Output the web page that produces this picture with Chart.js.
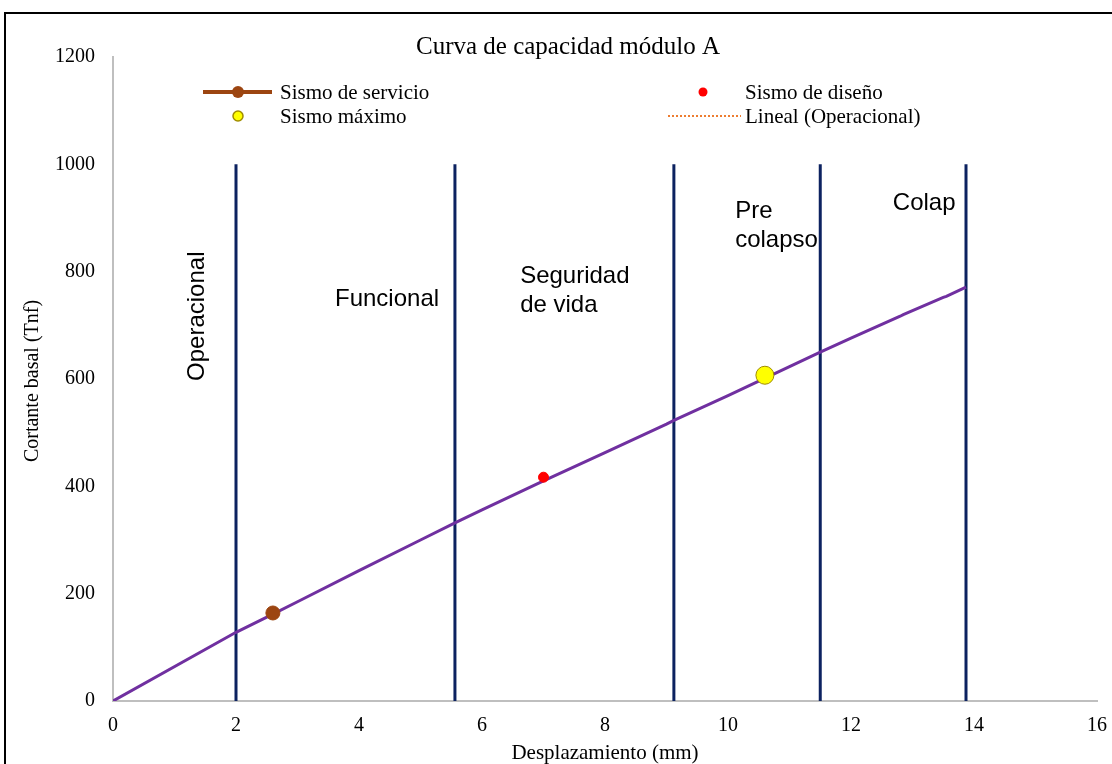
<!DOCTYPE html>
<html><head><meta charset="utf-8">
<script src="https://cdn.jsdelivr.net/npm/chart.js@4.4.0/dist/chart.umd.min.js"></script>
<style>html,body{margin:0;padding:0;background:#fff}canvas{display:block}</style>
</head><body>
<canvas id="c" width="1112" height="764"></canvas>
<script>
const titleText = 'Curva de capacidad módulo A';
const xTitle = 'Desplazamiento (mm)';
const yTitle = 'Cortante basal (Tnf)';
const curveX = [0, 2, 2.6, 3, 4, 5, 5.56, 6, 7, 8, 9, 9.12, 10, 11, 11.5, 12, 12.8, 12.85, 13.5, 13.55, 13.87];
const curveY = [0, 128, 162, 185, 243, 300, 332, 356, 410, 463, 516, 523, 569, 623, 650, 676, 717, 720, 752, 754, 771];
const servicio = [2.6, 164];
const diseno = [7.0, 417];
const maximo = [10.6, 607];
const limitX = [2.0, 5.56, 9.12, 11.5, 13.87];
const limitTop = 1000;
const zoneLabels = [
  {lines: ['Operacional'], x: 1.366, y: 717, rot: true},
  {lines: ['Funcional'], x: 3.61, y: 749},
  {lines: ['Seguridad', 'de vida'], x: 6.62, y: 792},
  {lines: ['Pre', 'colapso'], x: 10.116, y: 913},
  {lines: ['Colap'], x: 12.68, y: 928}
];
const xTicks = {min: 0, max: 16, step: 2};
const yTicks = {min: 0, max: 1200, step: 200};

const serif = "'Liberation Serif', 'Times New Roman', serif";
const sans = "'Liberation Sans', Arial, sans-serif";

const datasets = [];
limitX.forEach(x => datasets.push({label: '_lim', data: [{x: x, y: 0}, {x: x, y: limitTop}], borderColor: '#0c2260', borderWidth: 3, pointRadius: 0, showLine: true, order: 5}));
datasets.push({label: 'Curva', data: curveX.map((x, i) => ({x: x, y: curveY[i]})), borderColor: '#7030a0', borderWidth: 3, pointRadius: 0, showLine: true, tension: 0, order: 3});
datasets.push({label: 'Lineal (Operacional)', data: [], borderColor: '#ed7d31', borderDash: [2, 2], borderWidth: 2, pointRadius: 0, showLine: true, order: 2});
datasets.push({label: 'Sismo de servicio', data: [{x: servicio[0], y: servicio[1]}], backgroundColor: '#9c4511', borderColor: '#9c4511', pointRadius: 7, order: 1});
datasets.push({label: 'Sismo de diseño', data: [{x: diseno[0], y: diseno[1]}], backgroundColor: '#ff0000', borderColor: '#ff0000', pointRadius: 5, order: 1});
datasets.push({label: 'Sismo máximo', data: [{x: maximo[0], y: maximo[1]}], backgroundColor: '#ffff00', borderColor: '#a08c00', borderWidth: 1, pointRadius: 9, order: 1});

const decor = {
  id: 'decor',
  beforeDraw(chart) {
    const ctx = chart.ctx;
    ctx.save();
    ctx.fillStyle = '#fff';
    ctx.fillRect(0, 0, chart.width, chart.height);
    ctx.restore();
  },
  afterDraw(chart) {
    const ctx = chart.ctx;
    const xs = chart.scales.x, ys = chart.scales.y;
    ctx.save();
    ctx.strokeStyle = '#000'; ctx.lineWidth = 2;
    ctx.strokeRect(5, 13, 1200, 1000);
    ctx.fillStyle = '#000';
    ctx.font = '25px ' + serif;
    ctx.textAlign = 'center'; ctx.textBaseline = 'middle';
    ctx.fillText(titleText, 568, 47);
    ctx.font = '21px ' + serif;
    ctx.fillText(xTitle, 605, 753);
    ctx.save();
    ctx.font = '20px ' + serif;
    ctx.translate(33, 381); ctx.rotate(-Math.PI / 2);
    ctx.fillText(yTitle, 0, 0);
    ctx.restore();
    ctx.font = '24px ' + sans;
    zoneLabels.forEach(z => {
      const px = xs.getPixelForValue(z.x), py = ys.getPixelForValue(z.y);
      if (z.rot) {
        ctx.save(); ctx.translate(px, py); ctx.rotate(-Math.PI / 2);
        ctx.textAlign = 'center'; ctx.fillText(z.lines[0], 0, 0); ctx.restore();
      } else {
        ctx.textAlign = 'left';
        z.lines.forEach((l, i) => ctx.fillText(l, px, py + i * 29));
      }
    });
    ctx.font = '21px ' + serif;
    ctx.textAlign = 'left';
    const ds = chart.data.datasets;
    const get = n => ds.find(d => d.label === n);
    let d = get('Sismo de servicio');
    ctx.strokeStyle = d.borderColor; ctx.lineWidth = 4;
    ctx.beginPath(); ctx.moveTo(203, 92); ctx.lineTo(272, 92); ctx.stroke();
    ctx.fillStyle = d.backgroundColor; ctx.beginPath(); ctx.arc(238, 92, 6, 0, 2 * Math.PI); ctx.fill();
    ctx.fillStyle = '#000'; ctx.fillText(d.label, 280, 93);
    d = get('Sismo de diseño');
    ctx.fillStyle = d.backgroundColor; ctx.beginPath(); ctx.arc(703, 92, 4.5, 0, 2 * Math.PI); ctx.fill();
    ctx.fillStyle = '#000'; ctx.fillText(d.label, 745, 93);
    d = get('Sismo máximo');
    ctx.fillStyle = d.backgroundColor; ctx.strokeStyle = d.borderColor; ctx.lineWidth = 1.5;
    ctx.beginPath(); ctx.arc(238, 116, 5, 0, 2 * Math.PI); ctx.fill(); ctx.stroke();
    ctx.fillStyle = '#000'; ctx.fillText(d.label, 280, 117);
    d = get('Lineal (Operacional)');
    ctx.strokeStyle = d.borderColor; ctx.lineWidth = 2; ctx.setLineDash([2, 2]);
    ctx.beginPath(); ctx.moveTo(668, 116); ctx.lineTo(741, 116); ctx.stroke();
    ctx.setLineDash([]);
    ctx.fillStyle = '#000'; ctx.fillText(d.label, 745, 117);
    ctx.restore();
  }
};

new Chart(document.getElementById('c'), {
  type: 'scatter',
  data: {datasets: datasets},
  options: {
    responsive: false,
    animation: false,
    layout: {padding: {left: 0, top: 57, right: 15, bottom: 0}},
    plugins: {legend: {display: false}, tooltip: {enabled: false}, title: {display: false}},
    scales: {
      x: {
        type: 'linear', min: xTicks.min, max: xTicks.max,
        ticks: {stepSize: xTicks.step, color: '#000', font: {family: serif, size: 20}, padding: 13, maxRotation: 0, callback: v => String(v)},
        grid: {display: false, drawTicks: false},
        border: {display: true, color: '#bfbfbf', width: 2},
        afterFit(s) { s.height = 63; s.paddingLeft = 0; s.paddingRight = 0; }
      },
      y: {
        type: 'linear', min: yTicks.min, max: yTicks.max,
        ticks: {stepSize: yTicks.step, color: '#000', font: {family: serif, size: 20}, padding: 18, callback: v => String(v)},
        grid: {display: false, drawTicks: false},
        border: {display: true, color: '#bfbfbf', width: 2},
        afterFit(s) { s.width = 113; s.paddingTop = 0; s.paddingBottom = 0; }
      }
    }
  },
  plugins: [decor]
});
</script>
</body></html>
